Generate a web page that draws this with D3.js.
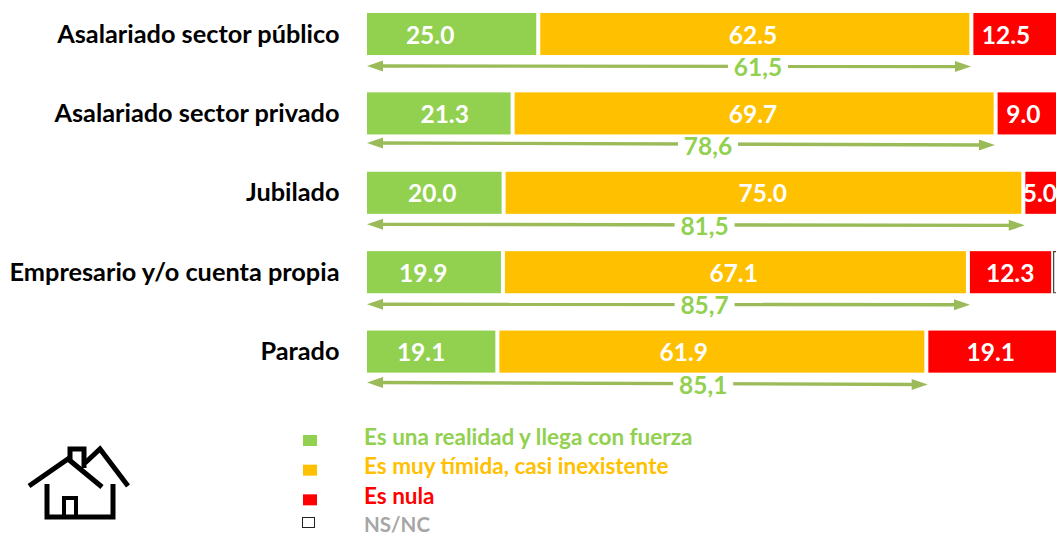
<!DOCTYPE html>
<html><head><meta charset="utf-8">
<script src="https://cdn.jsdelivr.net/npm/d3@7"></script>
<style>html,body{margin:0;padding:0;background:#fff}svg{display:block}text{font-family:Lato,"Open Sans",sans-serif;font-weight:700}</style>
</head><body><svg id="c" width="1056" height="533"></svg>
<script>
const categories=["Asalariado sector público","Asalariado sector privado","Jubilado","Empresario y/o cuenta propia","Parado"];
const seriesNames=["Es una realidad y llega con fuerza","Es muy tímida, casi inexistente","Es nula","NS/NC"];
const seriesColors=["#92D050","#FFC000","#FF0000","#FFFFFF"];
const legendText=["#92D050","#FFC000","#FF0000","#A6A6A6"];
const realidad=[25.0,21.3,20.0,19.9,19.1];
const timida=[62.5,69.7,75.0,67.1,61.9];
const nula=[12.5,9.0,5.0,12.3,19.1];
const nsnc=[0,0,0,0.7,0];
const arrowLabels=["61,5","78,6","81,5","85,7","85,1"];
const arrowEnds=[87.45,90.9,95.2,87.3,81.2];
// where the value labels sit, in axis units
const labelAt=[[9.4,56.0,92.5],[11.5,56.0,95.0],[9.7,57.4,97.4],[8.4,53.2,93.1],[8.1,46.0,90.3]];
const arrowLabelAt=[56.7,49.5,49.0,49.0,48.8];
// the hand-drawn arrows are slightly tilted
const arrowTilt=[[0.5,1],[-2,0],[0,1],[0.5,1],[-0.7,1.3]];

const svg=d3.select("#c");
const x=d3.scaleLinear().domain([0,100]).range([365,1058]);
const y=d3.scaleBand().domain(categories).range([-5.7,391.3]).paddingInner(0.47).paddingOuter(0.235);
const rows=categories.map((c,i)=>({c,i,vals:[realidad[i],timida[i],nula[i],nsnc[i]]}));
const g=svg.selectAll("g.row").data(rows).join("g").attr("class","row");

g.each(function(r){
  let cum=0; const sel=d3.select(this);
  const bw=y.bandwidth(), top=y(r.c);
  const ay=top+bw+10.5;
  const xs=x(0)+2, xe=x(arrowEnds[r.i]);
  const y0=ay+arrowTilt[r.i][0], y1=ay+arrowTilt[r.i][1];
  sel.append("line").attr("x1",xs+10).attr("x2",xe-10).attr("y1",y0).attr("y2",y1).attr("stroke","#9BBB59").attr("stroke-width",3.4);
  const tri=(tip,yy,dir)=>`M${tip},${yy}L${tip+dir*16},${yy-5.5}V${yy+5.5}Z`;
  sel.append("path").attr("d",tri(xs,y0,1)).attr("fill","#9BBB59");
  sel.append("path").attr("d",tri(xe,y1,-1)).attr("fill","#9BBB59");
  const lx=x(arrowLabelAt[r.i]);
  sel.append("rect").attr("x",lx-30).attr("y",ay-10).attr("width",60).attr("height",22).attr("fill","#fff");
  sel.append("text").attr("x",lx).attr("y",ay+10.5).attr("text-anchor","middle").attr("fill","#92D050").attr("font-size",24.5).text(arrowLabels[r.i]);
  r.vals.forEach((v,k)=>{
    if(v<=0){return;}
    const x0=x(cum),x1=x(cum+v); cum+=v;
    if(k===3){
      sel.append("path").attr("d",`M${x1+2},${top+.5}H${x0+.5}V${top+bw-.5}H${x1+2}`).attr("fill","none").attr("stroke","#404040").attr("stroke-width",1.2);
      return;
    }
    sel.append("rect").attr("x",x0+2).attr("y",top).attr("width",Math.max(0,x1-x0-4)).attr("height",bw).attr("fill",seriesColors[k]);
    sel.append("text").attr("x",x(labelAt[r.i][k])).attr("y",top+bw/2+9.5).attr("text-anchor","middle").attr("fill","#fff").attr("font-size",24.5).text(v.toFixed(1));
  });
  sel.append("text").attr("x",339.5).attr("y",top+bw/2+8.5).attr("text-anchor","end").attr("fill","#000").attr("font-size",25.3).text(r.c);
});

const leg=d3.scalePoint().domain(seriesNames).range([437,526]);
seriesNames.forEach((n,k)=>{
  const cy=leg(n);
  if(k===3){svg.append("rect").attr("x",302.5).attr("y",cy-8.5).attr("width",12).attr("height",10).attr("fill","#fff").attr("stroke","#222").attr("stroke-width",1);}
  else svg.append("rect").attr("x",303).attr("y",cy-2).attr("width",14).attr("height",11).attr("fill",seriesColors[k]);
  svg.append("text").attr("x",364).attr("y",k===3?cy+6:cy+7.5).attr("fill",legendText[k]).attr("font-size",k===3?20.5:22.5).text(n);
});

// house icon
const icon=svg.append("g").attr("fill","none").attr("stroke","#000").attr("stroke-width",5);
icon.append("path").attr("d","M29,486L68,459L102,487");
icon.append("path").attr("d","M85,463L100,449L128,486");
icon.append("path").attr("d","M47,484V517H113V484");
icon.append("path").attr("d","M64,517V498H76V517").attr("stroke-width",4);
icon.append("path").attr("d","M70,460V449H84V468").attr("stroke-width",5);
</script></body></html>
